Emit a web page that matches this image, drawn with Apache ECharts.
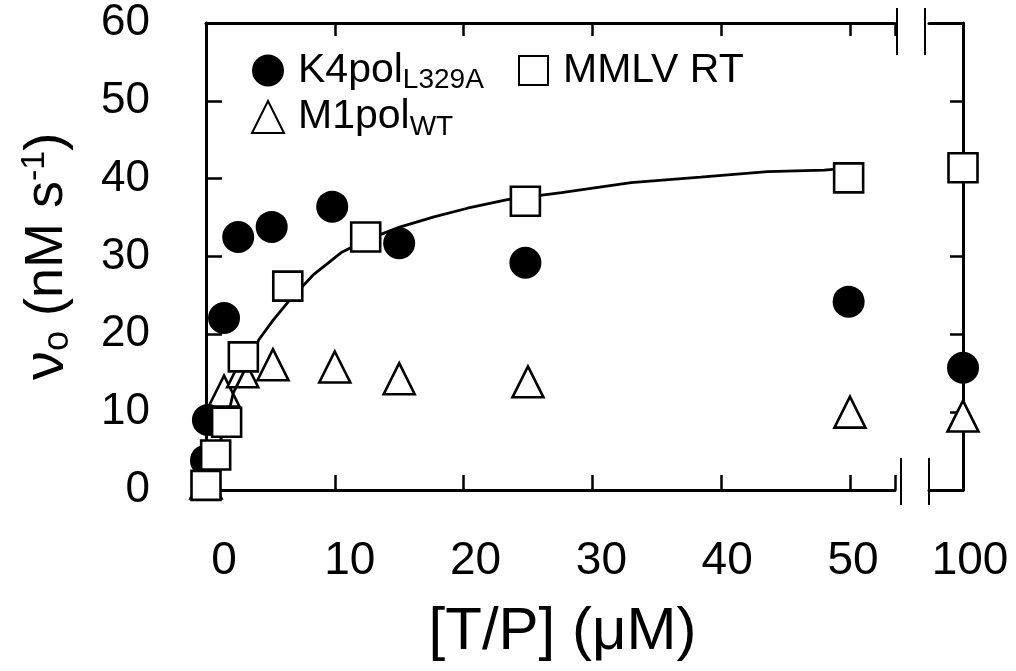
<!DOCTYPE html>
<html><head><meta charset="utf-8">
<script src="https://cdn.jsdelivr.net/npm/echarts@6/dist/echarts.min.js"></script>
<style>html,body{margin:0;padding:0;background:#fff}#c{width:1016px;height:671px}</style>
</head><body><div id="c"></div>
<script>
// ---- data ----
const k4X   = [0, 0.15, 1.4, 2.5, 5.1, 9.8, 15.0, 24.8, 49.9, 100];
const k4V   = [3.8, 9.0, 22.1, 32.5, 33.8, 36.4, 31.7, 29.2, 24.2, 15.7];
const mmlvX = [0, 0.75, 1.6, 2.9, 6.35, 12.4, 24.8, 49.9, 100];
const mmlvV = [0.6, 4.5, 8.7, 17.1, 26.2, 32.5, 37.1, 40.1, 41.4];
const m1X   = [0, 1.4, 2.85, 5.2, 10.0, 15.0, 25.0, 50.0, 100];
const m1V   = [0.9, 12.7, 15.2, 16.1, 15.8, 14.3, 13.9, 10.0, 9.5];
const fitX  = [0, 0.75, 1.6, 2.1, 3.0, 4.1, 5.2, 6.4, 8.3, 10.5, 12.4, 15.1, 17.7, 20.3, 23.4, 27.6, 33.0, 38.4, 43.6, 48.0, 50.0];
const fitV  = [0, 4.5, 8.7, 12.4, 15.4, 19.3, 21.8, 24.2, 27.6, 30.5, 32.1, 33.8, 35.1, 36.2, 37.3, 38.2, 39.5, 40.2, 40.9, 41.1, 41.4];
const xTickValues = [0, 10, 20, 30, 40, 50];
const xBreakTicks = [100];
const yTicks = [0, 10, 20, 30, 40, 50, 60];
const seriesNames = ['K4pol L329A', 'M1pol WT', 'MMLV RT'];

// ---- layout ----
const FONT = "'Liberation Sans', Arial, Helvetica, sans-serif";
const NARROW = "'Liberation Sans Narrow', 'Arial Narrow', 'Liberation Sans', sans-serif";
const G1 = {left: 206, top: 23, width: 689, height: 467};
const G2 = {left: 929, top: 23, width: 34, height: 467};
const X1_MAX = 53.5;
const PX_PER_UNIT = G1.width / X1_MAX;
const X2_MIN = 100 - G2.width / PX_PER_UNIT;
const BREAK_AT = 60;

function pts(xs, vs, right) {
  return xs.map((x, i) => [x, vs[i]]).filter(p => right ? p[0] > BREAK_AT : p[0] <= BREAK_AT);
}
const AX = {lineStyle: {color: '#000', width: 3}};
const TICK = w => ({show: true, inside: true, length: w, lineStyle: {color: '#000', width: 2.5}});

const openStyle = {color: '#fff', borderColor: '#000', borderWidth: 2.6, opacity: 1};
function scatterPair(name, xs, vs, symbol, size, style, z) {
  return [0, 1].map(g => ({
    name, type: 'scatter', xAxisIndex: g === 0 ? 0 : 3, yAxisIndex: g,
    data: pts(xs, vs, g === 1), symbol, symbolSize: size, itemStyle: style,
    clip: false, z, emphasis: {disabled: true}
  }));
}

const chart = echarts.init(document.getElementById('c'), null, {renderer: 'canvas'});
const legendText = {
  'K4pol L329A': '{m|K4pol}{s|L329A}',
  'M1pol WT': '{m|M1pol}{s|WT}',
  'MMLV RT': '{m|MMLV RT}'
};
const legendRich = {
  m: {fontFamily: FONT, fontSize: 41, color: '#000'},
  s: {fontFamily: FONT, fontSize: 28, color: '#000', padding: [20, 0, 0, 0]}
};
chart.setOption({
  animation: false,
  backgroundColor: '#fff',
  grid: [
    Object.assign({containLabel: false}, G1),
    Object.assign({containLabel: false}, G2)
  ],
  legend: [
    {data: [seriesNames[0], seriesNames[1]], orient: 'vertical', left: 246, top: 45,
     itemWidth: 32, itemHeight: 32, itemGap: 2, selectedMode: false,
     formatter: n => legendText[n], textStyle: {fontFamily: FONT, fontSize: 41, padding: [0, 0, 0, 9], rich: legendRich}},
    {data: [seriesNames[2]], orient: 'vertical', left: 513, top: 45,
     itemWidth: 29, itemHeight: 29, selectedMode: false,
     formatter: n => legendText[n], textStyle: {fontFamily: FONT, fontSize: 41, padding: [0, 0, 0, 10], rich: legendRich}}
  ],
  xAxis: [
    {gridIndex: 0, type: 'value', position: 'bottom', min: 0, max: X1_MAX, interval: 10,
     axisLine: AX, axisTick: TICK(15), axisLabel: {show: false}, splitLine: {show: false},
     name: '[T/P] (μM)', nameLocation: 'middle', nameGap: 112,
     nameTextStyle: {fontFamily: NARROW, fontSize: 60, color: '#000', padding: [0, 0, 0, 24]}},
    {gridIndex: 0, type: 'value', position: 'bottom', min: -1.43, max: -1.43 + G1.width / 12.58,
     axisLine: {show: false}, axisTick: {show: false}, splitLine: {show: false},
     axisLabel: {customValues: xTickValues, margin: 48, fontFamily: NARROW, fontSize: 46, color: '#000'}},
    {gridIndex: 0, type: 'value', position: 'top', min: 0, max: X1_MAX, interval: 10,
     axisLine: AX, axisTick: TICK(13), axisLabel: {show: false}, splitLine: {show: false}},
    {gridIndex: 1, type: 'value', position: 'bottom', min: X2_MIN, max: 100,
     axisLine: AX, axisTick: {show: false}, splitLine: {show: false},
     axisLabel: {customValues: xBreakTicks, margin: 48, fontFamily: NARROW, fontSize: 46, color: '#000', padding: [0, 0, 0, 14]}},
    {gridIndex: 1, type: 'value', position: 'top', min: X2_MIN, max: 100,
     axisLine: AX, axisTick: {show: false}, axisLabel: {show: false}, splitLine: {show: false}}
  ],
  yAxis: [
    {gridIndex: 0, type: 'value', position: 'left', min: yTicks[0], max: yTicks[yTicks.length - 1], interval: 10,
     axisLine: AX, axisTick: TICK(16), splitLine: {show: false},
     axisLabel: {margin: 56, fontFamily: FONT, fontSize: 44, color: '#000'},
     name: '{nu|ν}{sub|o}{t| (nM s}{sup|-1}{t|)}', nameLocation: 'middle', nameGap: 130, nameRotate: 90,
     nameTextStyle: {fontFamily: FONT, fontSize: 54, color: '#000', rich: {
       nu: {fontFamily: FONT, fontSize: 58, color: '#000'},
       t: {fontFamily: FONT, fontSize: 54, color: '#000'},
       sub: {fontFamily: FONT, fontSize: 36, color: '#000', padding: [22, 0, 0, 0]},
       sup: {fontFamily: FONT, fontSize: 34, color: '#000', padding: [0, 0, 24, 0]}
     }}},
    {gridIndex: 1, type: 'value', position: 'right', min: yTicks[0], max: yTicks[yTicks.length - 1], interval: 10,
     axisLine: AX, axisTick: TICK(13), axisLabel: {show: false}, splitLine: {show: false}}
  ],
  series: [
    {name: 'fit', type: 'line', xAxisIndex: 0, yAxisIndex: 0, data: pts(fitX, fitV, false),
     showSymbol: false, symbol: 'none', lineStyle: {color: '#000', width: 2.8, opacity: 1}, z: 3, clip: false,
     emphasis: {disabled: true}},
    ...scatterPair(seriesNames[1], m1X, m1V, 'triangle', 31, openStyle, 2),
    ...scatterPair(seriesNames[0], k4X, k4V, 'circle', 32, {color: '#000', opacity: 1}, 4),
    ...scatterPair(seriesNames[2], mmlvX, mmlvV, 'rect', 29, openStyle, 5)
  ],
  graphic: [
    {type: 'line', shape: {x1: G1.left + G1.width + 2, y1: 8, x2: G1.left + G1.width + 2, y2: 55}, style: {stroke: '#000', lineWidth: 2}},
    {type: 'line', shape: {x1: G2.left - 4, y1: 8, x2: G2.left - 4, y2: 55}, style: {stroke: '#000', lineWidth: 2}},
    {type: 'line', shape: {x1: G1.left + G1.width + 6, y1: 458, x2: G1.left + G1.width + 6, y2: 505}, style: {stroke: '#000', lineWidth: 2}},
    {type: 'line', shape: {x1: G2.left, y1: 458, x2: G2.left, y2: 505}, style: {stroke: '#000', lineWidth: 2}}
  ]
});
</script>
</body></html>
